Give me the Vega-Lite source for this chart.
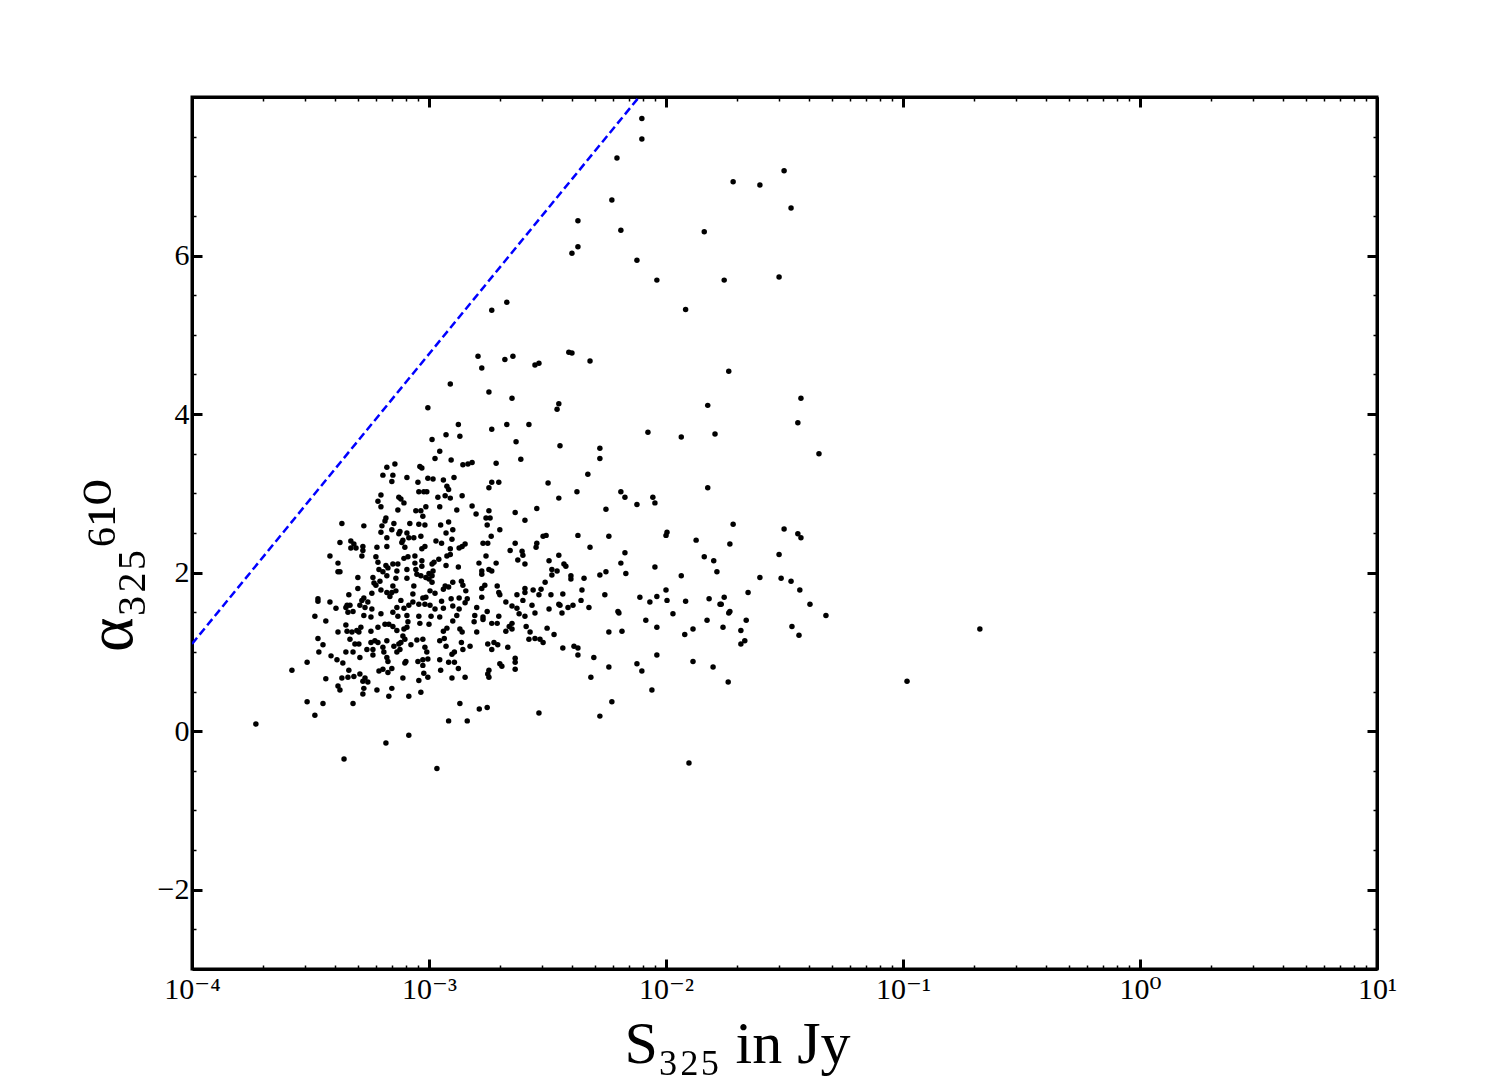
{
  "$schema": "https://vega.github.io/schema/vega-lite/v6.json",
  "width": 1185,
  "height": 872,
  "autosize": {"type": "none"},
  "padding": {"left": 192, "top": 97, "right": 132, "bottom": 107},
  "background": "white",
  "config": {
    "view": {"stroke": "black", "strokeWidth": 3},
    "font": "Liberation Serif, DejaVu Serif, serif"
  },
  "resolve": {"axis": {"x": "independent", "y": "independent"}},
  "layer": [
    {
      "data": {"values": [
        {"S":6.64e-4,"alpha":3.33},{"S":7.18e-4,"alpha":3.37},{"S":6.39e-4,"alpha":3.23},{"S":7.04e-4,"alpha":3.23},{"S":6.97e-4,"alpha":3.15},{"S":6.27e-4,"alpha":2.98},{"S":6.09e-4,"alpha":2.90},{"S":7.46e-4,"alpha":2.95},{"S":6.27e-4,"alpha":2.83},{"S":7.39e-4,"alpha":2.79},{"S":6.58e-4,"alpha":2.69},{"S":6.52e-4,"alpha":2.65},{"S":7.11e-4,"alpha":2.62},{"S":4.29e-4,"alpha":2.62},{"S":5.31e-4,"alpha":2.59},{"S":6.33e-4,"alpha":2.59},{"S":6.97e-4,"alpha":2.54},{"S":6.27e-4,"alpha":2.51},{"S":7.46e-4,"alpha":2.49},{"S":6.64e-4,"alpha":2.44},{"S":4.21e-4,"alpha":2.38},{"S":4.68e-4,"alpha":2.40},{"S":4.82e-4,"alpha":2.36},{"S":4.68e-4,"alpha":2.31},{"S":4.92e-4,"alpha":2.31},{"S":5.26e-4,"alpha":2.33},{"S":5.26e-4,"alpha":2.28},{"S":6.03e-4,"alpha":2.32},{"S":6.64e-4,"alpha":2.33},{"S":3.82e-4,"alpha":2.21},{"S":5.21e-4,"alpha":2.21},{"S":5.97e-4,"alpha":2.20},{"S":6.09e-4,"alpha":2.13},{"S":4.13e-4,"alpha":2.12},{"S":6.58e-4,"alpha":2.09},{"S":7.04e-4,"alpha":2.11},{"S":7.39e-4,"alpha":2.11},{"S":6.15e-4,"alpha":2.04},{"S":6.71e-4,"alpha":2.06},{"S":4.13e-4,"alpha":2.01},{"S":4.21e-4,"alpha":2.01},{"S":7.32e-4,"alpha":2.02},{"S":6.39e-4,"alpha":2.01},{"S":5.01e-4,"alpha":1.94},{"S":5.80e-4,"alpha":1.94},{"S":6.64e-4,"alpha":1.96},{"S":7.25e-4,"alpha":1.93},{"S":5.86e-4,"alpha":1.87},{"S":6.21e-4,"alpha":1.89},{"S":5.97e-4,"alpha":1.84},{"S":7.04e-4,"alpha":1.83},{"S":5.01e-4,"alpha":1.80},{"S":6.27e-4,"alpha":1.78},{"S":6.64e-4,"alpha":1.75},{"S":6.97e-4,"alpha":1.75},{"S":7.25e-4,"alpha":1.77},{"S":4.59e-4,"alpha":1.72},{"S":5.74e-4,"alpha":1.74},{"S":6.84e-4,"alpha":1.70},{"S":5.31e-4,"alpha":1.68},{"S":5.21e-4,"alpha":1.65},{"S":3.40e-4,"alpha":1.67},{"S":3.40e-4,"alpha":1.64},{"S":3.82e-4,"alpha":1.63},{"S":5.52e-4,"alpha":1.63},{"S":4.51e-4,"alpha":1.59},{"S":4.64e-4,"alpha":1.59},{"S":4.05e-4,"alpha":1.55},{"S":4.46e-4,"alpha":1.56},{"S":5.11e-4,"alpha":1.59},{"S":5.37e-4,"alpha":1.56},{"S":5.74e-4,"alpha":1.54},{"S":7.32e-4,"alpha":1.56},{"S":4.55e-4,"alpha":1.50},{"S":4.78e-4,"alpha":1.51},{"S":7.04e-4,"alpha":1.50},{"S":3.30e-4,"alpha":1.45},{"S":5.31e-4,"alpha":1.46},{"S":5.69e-4,"alpha":1.44},{"S":6.27e-4,"alpha":1.48},{"S":7.39e-4,"alpha":1.45},
        {"S":1.03e-3,"alpha":3.68},{"S":2.33e-3,"alpha":3.65},{"S":1.11e-3,"alpha":3.53},{"S":1.06e-3,"alpha":3.44},{"S":1.24e-3,"alpha":3.42},{"S":2.44e-3,"alpha":3.43},{"S":9.15e-4,"alpha":3.34},{"S":9.33e-4,"alpha":3.32},{"S":1.39e-3,"alpha":3.36},{"S":1.46e-3,"alpha":3.37},{"S":1.52e-3,"alpha":3.39},{"S":1.92e-3,"alpha":3.38},{"S":8.07e-4,"alpha":3.20},{"S":9.89e-4,"alpha":3.19},{"S":1.04e-3,"alpha":3.18},{"S":1.15e-3,"alpha":3.17},{"S":1.275e-3,"alpha":3.20},{"S":8.98e-4,"alpha":3.14},{"S":1.19e-3,"alpha":3.09},{"S":1.21e-3,"alpha":3.05},{"S":1.84e-3,"alpha":3.14},{"S":1.97e-3,"alpha":3.14},{"S":1.79e-3,"alpha":3.07},{"S":3.18e-3,"alpha":3.13},{"S":9.06e-4,"alpha":3.02},{"S":9.51e-4,"alpha":3.02},{"S":9.79e-4,"alpha":3.02},{"S":1.09e-3,"alpha":2.95},{"S":1.17e-3,"alpha":2.97},{"S":1.23e-3,"alpha":2.94},{"S":1.38e-3,"alpha":2.97},{"S":7.61e-4,"alpha":2.93},{"S":7.84e-4,"alpha":2.88},{"S":1.11e-3,"alpha":2.83},{"S":1.52e-3,"alpha":2.84},{"S":3.53e-3,"alpha":2.94},{"S":8.80e-4,"alpha":2.78},{"S":9.24e-4,"alpha":2.78},{"S":9.70e-4,"alpha":2.83},{"S":1.31e-3,"alpha":2.79},{"S":1.58e-3,"alpha":2.74},{"S":1.79e-3,"alpha":2.78},{"S":2.31e-3,"alpha":2.76},{"S":2.85e-3,"alpha":2.81},{"S":9.42e-4,"alpha":2.71},{"S":1.21e-3,"alpha":2.64},{"S":1.74e-3,"alpha":2.69},{"S":1.81e-3,"alpha":2.69},{"S":2.54e-3,"alpha":2.66},{"S":8.30e-4,"alpha":2.62},{"S":9.06e-4,"alpha":2.61},{"S":9.61e-4,"alpha":2.60},{"S":1.12e-3,"alpha":2.60},{"S":1.76e-3,"alpha":2.60},{"S":1.26e-3,"alpha":2.54},{"S":7.54e-4,"alpha":2.52},{"S":1.99e-3,"alpha":2.54},{"S":8.07e-4,"alpha":2.50},{"S":1.18e-3,"alpha":2.50},{"S":7.76e-4,"alpha":2.41},{"S":8.22e-4,"alpha":2.44},{"S":8.63e-4,"alpha":2.44},{"S":9.24e-4,"alpha":2.46},{"S":7.68e-4,"alpha":2.38},{"S":1.07e-3,"alpha":2.40},{"S":1.13e-3,"alpha":2.37},{"S":1.25e-3,"alpha":2.42},{"S":1.69e-3,"alpha":2.37},{"S":1.77e-3,"alpha":2.37},{"S":1.83e-3,"alpha":2.46},{"S":2.31e-3,"alpha":2.37},{"S":2.85e-3,"alpha":2.37},{"S":3.03e-3,"alpha":2.46},{"S":3.12e-3,"alpha":2.47},{"S":7.91e-4,"alpha":2.32},{"S":9.33e-4,"alpha":2.30},{"S":9.61e-4,"alpha":2.33},{"S":1.23e-3,"alpha":2.30},{"S":1.34e-3,"alpha":2.31},{"S":1.38e-3,"alpha":2.33},{"S":1.42e-3,"alpha":2.36},{"S":2.20e-3,"alpha":2.28},{"S":2.47e-3,"alpha":2.27},{"S":2.83e-3,"alpha":2.32},{"S":7.84e-4,"alpha":2.18},{"S":8.15e-4,"alpha":2.20},{"S":8.72e-4,"alpha":2.21},{"S":9.33e-4,"alpha":2.15},{"S":1.05e-3,"alpha":2.13},{"S":1.10e-3,"alpha":2.17},{"S":1.19e-3,"alpha":2.21},{"S":1.23e-3,"alpha":2.23},{"S":1.74e-3,"alpha":2.21},{"S":2.49e-3,"alpha":2.22},{"S":3.53e-3,"alpha":2.22},{"S":8.72e-4,"alpha":2.12},{"S":8.80e-4,"alpha":2.04},{"S":9.33e-4,"alpha":2.08},{"S":1.03e-3,"alpha":2.11},{"S":1.18e-3,"alpha":2.09},{"S":1.33e-3,"alpha":2.07},{"S":1.625e-3,"alpha":2.12},{"S":1.92e-3,"alpha":2.12},{"S":2.37e-3,"alpha":2.16},{"S":2.54e-3,"alpha":2.11},{"S":3.21e-3,"alpha":2.15},{"S":8.07e-4,"alpha":2.04},{"S":8.89e-4,"alpha":1.98},{"S":9.24e-4,"alpha":1.96},{"S":1.00e-3,"alpha":1.99},{"S":1.04e-3,"alpha":2.02},{"S":1.67e-3,"alpha":2.02},{"S":1.67e-3,"alpha":1.98},{"S":1.79e-3,"alpha":2.04},{"S":1.84e-3,"alpha":2.02},{"S":3.30e-3,"alpha":2.04},{"S":3.47e-3,"alpha":2.02},{"S":8.07e-4,"alpha":1.93},{"S":9.70e-4,"alpha":1.94},{"S":1.00e-3,"alpha":1.92},{"S":1.03e-3,"alpha":1.96},{"S":3.30e-3,"alpha":1.97},{"S":8.63e-4,"alpha":1.83},{"S":1.03e-3,"alpha":1.88},{"S":1.17e-3,"alpha":1.83},{"S":1.26e-3,"alpha":1.88},{"S":1.37e-3,"alpha":1.89},{"S":1.39e-3,"alpha":1.84},{"S":1.72e-3,"alpha":1.84},{"S":1.67e-3,"alpha":1.80},{"S":1.94e-3,"alpha":1.83},{"S":2.54e-3,"alpha":1.80},{"S":2.75e-3,"alpha":1.78},{"S":3.09e-3,"alpha":1.88},{"S":1.01e-3,"alpha":1.77},{"S":1.15e-3,"alpha":1.79},{"S":1.21e-3,"alpha":1.82},{"S":1.43e-3,"alpha":1.77},{"S":1.97e-3,"alpha":1.75},{"S":1.99e-3,"alpha":1.72},{"S":2.35e-3,"alpha":1.72},{"S":2.54e-3,"alpha":1.75},{"S":2.97e-3,"alpha":1.79},{"S":8.55e-4,"alpha":1.73},{"S":9.42e-4,"alpha":1.68},{"S":9.70e-4,"alpha":1.69},{"S":1.06e-3,"alpha":1.74},{"S":1.24e-3,"alpha":1.67},{"S":1.34e-3,"alpha":1.68},{"S":1.45e-3,"alpha":1.67},{"S":1.67e-3,"alpha":1.69},{"S":2.91e-3,"alpha":1.72},{"S":3.27e-3,"alpha":1.72},{"S":7.61e-4,"alpha":1.65},{"S":8.55e-4,"alpha":1.63},{"S":9.06e-4,"alpha":1.60},{"S":9.61e-4,"alpha":1.60},{"S":1.01e-3,"alpha":1.59},{"S":1.13e-3,"alpha":1.64},{"S":1.42e-3,"alpha":1.62},{"S":2.11e-3,"alpha":1.63},{"S":2.49e-3,"alpha":1.65},{"S":3.53e-3,"alpha":1.60},{"S":7.84e-4,"alpha":1.55},{"S":8.22e-4,"alpha":1.59},{"S":1.06e-3,"alpha":1.54},{"S":1.15e-3,"alpha":1.55},{"S":1.26e-3,"alpha":1.58},{"S":1.34e-3,"alpha":1.54},{"S":1.59e-3,"alpha":1.56},{"S":1.76e-3,"alpha":1.51},{"S":2.24e-3,"alpha":1.58},{"S":2.35e-3,"alpha":1.55},{"S":2.72e-3,"alpha":1.59},{"S":3.21e-3,"alpha":1.54},{"S":8.07e-4,"alpha":1.46},{"S":9.06e-4,"alpha":1.45},{"S":1.02e-3,"alpha":1.45},{"S":1.11e-3,"alpha":1.44},{"S":1.31e-3,"alpha":1.46},{"S":1.56e-3,"alpha":1.46},{"S":1.69e-3,"alpha":1.44},{"S":1.97e-3,"alpha":1.45},{"S":2.40e-3,"alpha":1.48},{"S":2.54e-3,"alpha":1.45},{"S":2.80e-3,"alpha":1.49},
        {"S":4.46e-4,"alpha":1.34},{"S":3.67e-4,"alpha":1.39},{"S":4.13e-4,"alpha":1.25},{"S":4.51e-4,"alpha":1.26},{"S":4.73e-4,"alpha":1.25},{"S":4.96e-4,"alpha":1.27},{"S":5.16e-4,"alpha":1.31},{"S":5.06e-4,"alpha":1.25},{"S":5.69e-4,"alpha":1.26},{"S":6.09e-4,"alpha":1.31},{"S":6.52e-4,"alpha":1.35},{"S":6.77e-4,"alpha":1.35},{"S":7.04e-4,"alpha":1.32},{"S":7.32e-4,"alpha":1.27},{"S":3.40e-4,"alpha":1.17},{"S":4.64e-4,"alpha":1.16},{"S":4.87e-4,"alpha":1.10},{"S":5.06e-4,"alpha":1.10},{"S":5.69e-4,"alpha":1.12},{"S":5.91e-4,"alpha":1.14},{"S":6.09e-4,"alpha":1.12},{"S":6.64e-4,"alpha":1.14},{"S":7.11e-4,"alpha":1.07},{"S":7.46e-4,"alpha":1.10},{"S":3.57e-4,"alpha":1.09},{"S":3.43e-4,"alpha":1.00},{"S":4.46e-4,"alpha":1.00},{"S":4.78e-4,"alpha":1.00},{"S":5.47e-4,"alpha":1.03},{"S":5.80e-4,"alpha":1.03},{"S":6.39e-4,"alpha":1.06},{"S":6.45e-4,"alpha":1.00},{"S":7.32e-4,"alpha":1.00},{"S":3.86e-4,"alpha":0.95},{"S":4.09e-4,"alpha":0.90},{"S":4.33e-4,"alpha":0.86},{"S":5.11e-4,"alpha":0.93},{"S":5.80e-4,"alpha":0.96},{"S":6.64e-4,"alpha":0.93},{"S":6.71e-4,"alpha":0.88},{"S":3.06e-4,"alpha":0.87},{"S":2.64e-4,"alpha":0.77},{"S":4.59e-4,"alpha":0.77},{"S":6.15e-4,"alpha":0.76},{"S":6.39e-4,"alpha":0.78},{"S":6.71e-4,"alpha":0.74},{"S":6.97e-4,"alpha":0.79},{"S":4.29e-4,"alpha":0.67},{"S":4.55e-4,"alpha":0.68},{"S":4.82e-4,"alpha":0.69},{"S":5.11e-4,"alpha":0.72},{"S":5.37e-4,"alpha":0.67},{"S":5.52e-4,"alpha":0.62},{"S":5.26e-4,"alpha":0.63},{"S":3.67e-4,"alpha":0.66},{"S":4.13e-4,"alpha":0.57},{"S":4.21e-4,"alpha":0.52},{"S":5.31e-4,"alpha":0.54},{"S":6.03e-4,"alpha":0.52},{"S":6.97e-4,"alpha":0.54},{"S":5.26e-4,"alpha":0.47},{"S":6.77e-4,"alpha":0.44},{"S":3.06e-4,"alpha":0.37},{"S":3.57e-4,"alpha":0.35},{"S":4.78e-4,"alpha":0.35},{"S":3.30e-4,"alpha":0.20},{"S":1.86e-4,"alpha":0.09},{"S":6.58e-4,"alpha":-0.15},{"S":4.38e-4,"alpha":-0.35},
        {"S":8.15e-4,"alpha":1.38},{"S":9.15e-4,"alpha":1.36},{"S":1.00e-3,"alpha":1.35},{"S":1.26e-3,"alpha":1.39},{"S":1.55e-3,"alpha":1.38},{"S":1.69e-3,"alpha":1.41},{"S":1.84e-3,"alpha":1.36},{"S":1.94e-3,"alpha":1.36},{"S":2.18e-3,"alpha":1.32},{"S":2.24e-3,"alpha":1.36},{"S":2.57e-3,"alpha":1.32},{"S":3.15e-3,"alpha":1.30},{"S":7.84e-4,"alpha":1.29},{"S":8.07e-4,"alpha":1.31},{"S":1.15e-3,"alpha":1.26},{"S":1.19e-3,"alpha":1.30},{"S":1.35e-3,"alpha":1.29},{"S":1.38e-3,"alpha":1.25},{"S":1.59e-3,"alpha":1.25},{"S":2.11e-3,"alpha":1.26},{"S":2.24e-3,"alpha":1.29},{"S":2.67e-3,"alpha":1.25},{"S":3.37e-3,"alpha":1.22},{"S":7.76e-4,"alpha":1.20},{"S":7.91e-4,"alpha":1.16},{"S":7.61e-4,"alpha":1.12},{"S":8.89e-4,"alpha":1.15},{"S":9.42e-4,"alpha":1.16},{"S":1.11e-3,"alpha":1.14},{"S":1.16e-3,"alpha":1.17},{"S":1.18e-3,"alpha":1.07},{"S":1.37e-3,"alpha":1.12},{"S":1.49e-3,"alpha":1.07},{"S":1.77e-3,"alpha":1.10},{"S":1.88e-3,"alpha":1.12},{"S":1.95e-3,"alpha":1.09},{"S":1.84e-3,"alpha":1.03},{"S":2.15e-3,"alpha":1.06},{"S":2.64e-3,"alpha":1.16},{"S":2.80e-3,"alpha":1.17},{"S":2.94e-3,"alpha":1.16},{"S":3.03e-3,"alpha":1.12},{"S":8.39e-4,"alpha":1.09},{"S":9.61e-4,"alpha":1.06},{"S":7.54e-4,"alpha":1.03},{"S":9.79e-4,"alpha":1.00},{"S":1.39e-3,"alpha":1.03},{"S":1.28e-3,"alpha":1.00},{"S":1.25e-3,"alpha":0.97},{"S":9.42e-4,"alpha":0.90},{"S":9.89e-4,"alpha":0.91},{"S":8.98e-4,"alpha":0.88},{"S":7.99e-4,"alpha":0.88},{"S":7.91e-4,"alpha":0.86},{"S":1.11e-3,"alpha":0.90},{"S":1.21e-3,"alpha":0.87},{"S":1.28e-3,"alpha":0.87},{"S":9.42e-4,"alpha":0.83},{"S":2.31e-3,"alpha":0.92},{"S":2.31e-3,"alpha":0.87},{"S":1.99e-3,"alpha":0.85},{"S":2.03e-3,"alpha":0.82},{"S":1.33e-3,"alpha":0.79},{"S":1.12e-3,"alpha":0.77},{"S":1.79e-3,"alpha":0.77},{"S":2.31e-3,"alpha":0.78},{"S":9.51e-4,"alpha":0.73},{"S":9.89e-4,"alpha":0.68},{"S":1.77e-3,"alpha":0.72},{"S":1.79e-3,"alpha":0.68},{"S":7.76e-4,"alpha":0.67},{"S":9.06e-4,"alpha":0.64},{"S":1.25e-3,"alpha":0.67},{"S":1.42e-3,"alpha":0.68},{"S":8.22e-4,"alpha":0.44},{"S":9.24e-4,"alpha":0.49},{"S":1.35e-3,"alpha":0.35},{"S":1.63e-3,"alpha":0.28},{"S":1.76e-3,"alpha":0.30},{"S":2.91e-3,"alpha":0.23},{"S":1.21e-3,"alpha":0.13},{"S":1.45e-3,"alpha":0.13},{"S":8.22e-4,"alpha":-0.05},{"S":1.08e-3,"alpha":-0.47},
        {"S":2.13e-3,"alpha":5.41},{"S":1.84e-3,"alpha":5.31},{"S":1.61e-3,"alpha":4.73},{"S":2.09e-3,"alpha":4.69},{"S":2.26e-3,"alpha":4.73},{"S":1.67e-3,"alpha":4.58},{"S":2.80e-3,"alpha":4.62},{"S":2.91e-3,"alpha":4.64},{"S":1.23e-3,"alpha":4.38},{"S":1.79e-3,"alpha":4.28},{"S":2.24e-3,"alpha":4.20},{"S":9.89e-4,"alpha":4.08},{"S":3.47e-3,"alpha":4.06},{"S":3.53e-3,"alpha":4.13},{"S":1.33e-3,"alpha":3.87},{"S":1.84e-3,"alpha":3.81},{"S":2.13e-3,"alpha":3.87},{"S":2.64e-3,"alpha":3.87},{"S":1.18e-3,"alpha":3.74},{"S":1.35e-3,"alpha":3.72},
        {"S":7.91e-3,"alpha":7.73},{"S":7.91e-3,"alpha":7.47},{"S":6.21e-3,"alpha":7.23},{"S":5.91e-3,"alpha":6.70},{"S":4.25e-3,"alpha":6.44},{"S":6.45e-3,"alpha":6.32},{"S":1.45e-2,"alpha":6.30},{"S":4.25e-3,"alpha":6.11},{"S":4.01e-3,"alpha":6.03},{"S":7.54e-3,"alpha":5.94},{"S":9.15e-3,"alpha":5.69},{"S":1.21e-2,"alpha":5.32},{"S":3.89e-3,"alpha":4.78},{"S":4.01e-3,"alpha":4.77},{"S":4.78e-3,"alpha":4.67},{"S":1.50e-2,"alpha":4.11},{"S":8.39e-3,"alpha":3.77},{"S":1.16e-2,"alpha":3.71},{"S":1.61e-2,"alpha":3.75},{"S":3.57e-3,"alpha":3.60},{"S":5.26e-3,"alpha":3.57},
        {"S":5.26e-3,"alpha":3.44},{"S":4.68e-3,"alpha":3.24},{"S":4.21e-3,"alpha":3.02},{"S":6.45e-3,"alpha":3.02},{"S":6.71e-3,"alpha":2.95},{"S":5.58e-3,"alpha":2.80},{"S":7.54e-3,"alpha":2.86},{"S":8.80e-3,"alpha":2.95},{"S":8.98e-3,"alpha":2.88},{"S":1.50e-2,"alpha":3.07},{"S":4.25e-3,"alpha":2.47},{"S":5.74e-3,"alpha":2.46},{"S":4.78e-3,"alpha":2.32},{"S":1.01e-2,"alpha":2.51},{"S":1.00e-2,"alpha":2.47},{"S":1.34e-2,"alpha":2.41},{"S":6.71e-3,"alpha":2.25},{"S":3.71e-3,"alpha":2.11},{"S":3.78e-3,"alpha":2.08},{"S":6.45e-3,"alpha":2.12},{"S":8.98e-3,"alpha":2.07},{"S":1.45e-2,"alpha":2.20},{"S":1.59e-2,"alpha":2.15},{"S":1.64e-2,"alpha":2.01},{"S":1.16e-2,"alpha":1.96},{"S":6.77e-3,"alpha":1.99},{"S":5.26e-3,"alpha":1.97},{"S":5.58e-3,"alpha":2.01},{"S":3.97e-3,"alpha":1.96},{"S":3.97e-3,"alpha":1.92},{"S":4.51e-3,"alpha":1.93},{"S":3.67e-3,"alpha":1.73},{"S":4.42e-3,"alpha":1.78},{"S":4.38e-3,"alpha":1.65},{"S":5.52e-3,"alpha":1.72},{"S":3.57e-3,"alpha":1.59},{"S":3.86e-3,"alpha":1.56},{"S":4.05e-3,"alpha":1.59},{"S":3.64e-3,"alpha":1.49},{"S":4.73e-3,"alpha":1.56},{"S":7.76e-3,"alpha":1.69},{"S":8.55e-3,"alpha":1.63},{"S":9.15e-3,"alpha":1.70},{"S":1.00e-2,"alpha":1.78},{"S":1.01e-2,"alpha":1.65},{"S":1.21e-2,"alpha":1.64},{"S":1.52e-2,"alpha":1.67},{"S":1.69e-2,"alpha":1.60},{"S":6.27e-3,"alpha":1.51},{"S":6.33e-3,"alpha":1.49},{"S":1.07e-2,"alpha":1.48},{"S":8.22e-3,"alpha":1.40},{"S":9.15e-3,"alpha":1.31},{"S":1.49e-2,"alpha":1.40},{"S":1.30e-2,"alpha":1.29},{"S":1.20e-2,"alpha":1.22},{"S":3.67e-3,"alpha":1.05},{"S":4.09e-3,"alpha":1.07},{"S":4.25e-3,"alpha":1.05},{"S":4.25e-3,"alpha":0.96},{"S":4.96e-3,"alpha":0.93},{"S":5.74e-3,"alpha":1.25},{"S":6.52e-3,"alpha":1.26},{"S":5.74e-3,"alpha":0.81},{"S":7.54e-3,"alpha":0.85},{"S":7.91e-3,"alpha":0.76},{"S":9.15e-3,"alpha":0.96},{"S":1.30e-2,"alpha":0.88},{"S":1.58e-2,"alpha":0.81},{"S":4.82e-3,"alpha":0.68},{"S":8.72e-3,"alpha":0.52},{"S":5.91e-3,"alpha":0.37},{"S":5.26e-3,"alpha":0.19},{"S":1.25e-2,"alpha":-0.40},
        {"S":3.15e-2,"alpha":7.07},{"S":1.92e-2,"alpha":6.93},{"S":2.49e-2,"alpha":6.89},{"S":3.37e-2,"alpha":6.60},{"S":1.76e-2,"alpha":5.69},{"S":3.00e-2,"alpha":5.73},{"S":1.84e-2,"alpha":4.54},{"S":3.71e-2,"alpha":4.20},{"S":3.60e-2,"alpha":3.89},
        {"S":4.42e-2,"alpha":3.50},{"S":1.92e-2,"alpha":2.61},{"S":3.15e-2,"alpha":2.55},{"S":3.60e-2,"alpha":2.49},{"S":3.71e-2,"alpha":2.44},{"S":1.86e-2,"alpha":2.36},{"S":3.00e-2,"alpha":2.23},{"S":2.49e-2,"alpha":1.94},{"S":3.06e-2,"alpha":1.93},{"S":3.37e-2,"alpha":1.89},{"S":2.22e-2,"alpha":1.75},{"S":3.67e-2,"alpha":1.78},{"S":1.76e-2,"alpha":1.69},{"S":1.71e-2,"alpha":1.60},{"S":1.86e-2,"alpha":1.51},{"S":1.84e-2,"alpha":1.49},{"S":2.18e-2,"alpha":1.40},{"S":4.05e-2,"alpha":1.60},{"S":4.73e-2,"alpha":1.46},{"S":1.74e-2,"alpha":1.31},{"S":2.07e-2,"alpha":1.27},{"S":2.15e-2,"alpha":1.14},{"S":2.07e-2,"alpha":1.10},{"S":3.40e-2,"alpha":1.32},{"S":3.64e-2,"alpha":1.21},{"S":1.83e-2,"alpha":0.62},
        {"S":1.04e-1,"alpha":0.63},{"S":2.11e-1,"alpha":1.29}
      ]},
      "mark": {"type": "circle", "size": 30, "color": "black", "opacity": 1},
      "encoding": {
        "x": {
          "field": "S", "type": "quantitative",
          "scale": {"type": "log", "domain": [0.0001, 10], "nice": false},
          "axis": {
            "orient": "bottom",
            "values": [0.0001,0.0002,0.0003,0.0004,0.0005,0.0006,0.0007,0.0008,0.0009,0.001,0.002,0.003,0.004,0.005,0.006,0.007,0.008,0.009,0.01,0.02,0.03,0.04,0.05,0.06,0.07,0.08,0.09,0.1,0.2,0.3,0.4,0.5,0.6,0.7,0.8,0.9,1,2,3,4,5,6,7,8,9,10],
            "labelExpr": "indexof([0.0001,0.001,0.01,0.1,1,10], datum.value) < 0 ? '' : datum.value < 0.0005 ? '10⁻⁴' : datum.value < 0.005 ? '10⁻³' : datum.value < 0.05 ? '10⁻²' : datum.value < 0.5 ? '10⁻¹' : datum.value < 5 ? '10⁰' : '10¹'",
            "tickSize": {"condition": {"test": "indexof([0.0001,0.001,0.01,0.1,1,10], datum.value) >= 0", "value": -10}, "value": -4},
            "tickWidth": {"condition": {"test": "indexof([0.0001,0.001,0.01,0.1,1,10], datum.value) >= 0", "value": 3}, "value": 1.5},
            "tickColor": "black",
            "domainColor": "black", "domainWidth": 3,
            "grid": false,
            "labelFont": "Liberation Serif, DejaVu Serif, serif", "labelFontSize": 30, "labelColor": "black",
            "labelPadding": 15, "labelOverlap": false, "labelFlush": false,
            "title": "S₃₂₅ in Jy",
            "titleFont": "Liberation Serif, DejaVu Serif, serif", "titleFontSize": 60, "titleFontWeight": "normal", "titleColor": "black",
            "titleBaseline": "alphabetic", "titleAlign": "center",
            "titleX": 545, "titleY": 93
          }
        },
        "y": {
          "field": "alpha", "type": "quantitative",
          "scale": {"domain": [-3, 8], "nice": false, "zero": false},
          "axis": {
            "orient": "left",
            "values": [-2.5,-2,-1.5,-1,-0.5,0,0.5,1,1.5,2,2.5,3,3.5,4,4.5,5,5.5,6,6.5,7,7.5],
            "labelExpr": "datum.value % 2 != 0 ? '' : datum.value < 0 ? '−' + abs(datum.value) : '' + datum.value",
            "tickSize": {"condition": {"test": "datum.value % 2 == 0", "value": -10}, "value": -4},
            "tickWidth": {"condition": {"test": "datum.value % 2 == 0", "value": 3}, "value": 1.5},
            "tickColor": "black",
            "domainColor": "black", "domainWidth": 3,
            "grid": false,
            "labelFont": "Liberation Serif, DejaVu Serif, serif", "labelFontSize": 30, "labelColor": "black",
            "labelPadding": 13, "labelOverlap": false, "labelFlush": false,
            "title": "α₃₂₅⁶¹⁰",
            "titleFont": "Liberation Serif, DejaVu Serif, serif", "titleFontSize": 66, "titleFontWeight": "normal", "titleColor": "black",
            "titlePadding": 12,
            "titleY": 468
          }
        }
      }
    },
    {
      "data": {"values": [{"S": 0.0001, "alpha": 1.101}, {"S": 0.0077, "alpha": 8.0}]},
      "mark": {"type": "line", "color": "#0000ff", "strokeWidth": 2.5, "strokeDash": [8, 4], "clip": true},
      "encoding": {
        "x": {
          "field": "S", "type": "quantitative",
          "scale": {"type": "log", "domain": [0.0001, 10], "nice": false},
          "axis": {
            "orient": "top",
            "values": [0.0001,0.0002,0.0003,0.0004,0.0005,0.0006,0.0007,0.0008,0.0009,0.001,0.002,0.003,0.004,0.005,0.006,0.007,0.008,0.009,0.01,0.02,0.03,0.04,0.05,0.06,0.07,0.08,0.09,0.1,0.2,0.3,0.4,0.5,0.6,0.7,0.8,0.9,1,2,3,4,5,6,7,8,9,10],
            "labels": false, "title": null,
            "tickSize": {"condition": {"test": "indexof([0.0001,0.001,0.01,0.1,1,10], datum.value) >= 0", "value": -10}, "value": -4},
            "tickWidth": {"condition": {"test": "indexof([0.0001,0.001,0.01,0.1,1,10], datum.value) >= 0", "value": 3}, "value": 1.5},
            "tickColor": "black",
            "domainColor": "black", "domainWidth": 3,
            "grid": false
          }
        },
        "y": {
          "field": "alpha", "type": "quantitative",
          "scale": {"domain": [-3, 8], "nice": false, "zero": false},
          "axis": {
            "orient": "right",
            "values": [-2.5,-2,-1.5,-1,-0.5,0,0.5,1,1.5,2,2.5,3,3.5,4,4.5,5,5.5,6,6.5,7,7.5],
            "labels": false, "title": null,
            "tickSize": {"condition": {"test": "datum.value % 2 == 0", "value": -10}, "value": -4},
            "tickWidth": {"condition": {"test": "datum.value % 2 == 0", "value": 3}, "value": 1.5},
            "tickColor": "black",
            "domainColor": "black", "domainWidth": 3,
            "grid": false
          }
        }
      }
    }
  ]
}
